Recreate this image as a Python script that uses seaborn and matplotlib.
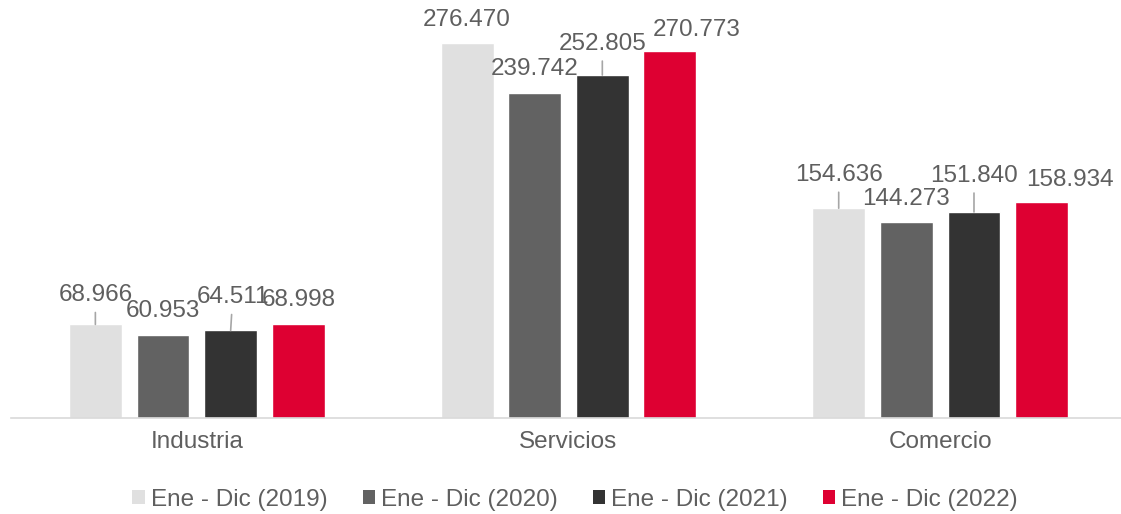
import matplotlib
matplotlib.use("Agg")
import matplotlib.pyplot as plt
import seaborn as sns
import pandas as pd
from matplotlib.patches import Patch

# ---- data ----
categories = ["Industria", "Servicios", "Comercio"]
series = ["Ene - Dic (2019)", "Ene - Dic (2020)", "Ene - Dic (2021)", "Ene - Dic (2022)"]
v2019 = [68966, 276470, 154636]
v2020 = [60953, 239742, 144273]
v2021 = [64511, 252805, 151840]
v2022 = [68998, 270773, 158934]
values = [v2019, v2020, v2021, v2022]

colors = ["#e0e0e0", "#626262", "#333333", "#de0032"]

# label placement (pixel offsets of label centre from bar top centre) and leader flags
label_offsets = [
    [(0, 31), (0, 25), (0, 35)],
    [(0, 26), (0, 26), (0, 25)],
    [(2, 35), (0, 33), (0, 38)],
    [(0, 26), (27, 23), (28, 24)],
]
leaders = [
    [True, False, True],
    [False, False, False],
    [True, True, True],
    [False, False, False],
]

rows = []
for s, vals in zip(series, values):
    for c, v in zip(categories, vals):
        rows.append({"cat": c, "serie": s, "val": v})
df = pd.DataFrame(rows)

sns.set_theme(style="white")
plt.rcParams["font.family"] = ["Liberation Sans", "DejaVu Sans"]

text_color = "#5f5f5f"
fs = 17.5

fig = plt.figure(figsize=(11.21, 5.14), dpi=100)
ax = fig.add_axes([11 / 1121, 96 / 514, 1115 / 1121, 407 / 514])

sns.barplot(data=df, x="cat", y="val", hue="serie", order=categories,
            hue_order=series, palette=colors, width=0.728, gap=0.217,
            saturation=1, ax=ax, legend=False, errorbar=None)

ax.set_xlim(-0.5, 2.5)
ax.set_ylim(0, 300000)
ax.set_xlabel("")
ax.set_ylabel("")
ax.set_yticks([])
for sp in ["left", "right", "top"]:
    ax.spines[sp].set_visible(False)
ax.spines["bottom"].set_color("#d9d9d9")
ax.spines["bottom"].set_linewidth(1.2)
ax.tick_params(axis="x", length=0, pad=9.5, labelsize=fs, labelcolor=text_color)

def fmt(v):
    return f"{v:,.0f}".replace(",", ".")

for hi, cont in enumerate(ax.containers):
    for ci, bar in enumerate(cont):
        x = bar.get_x() + bar.get_width() / 2
        y = bar.get_height()
        dx, dy = label_offsets[hi][ci]
        v = values[hi][ci]
        kw = {}
        if leaders[hi][ci]:
            kw["arrowprops"] = dict(arrowstyle="-", color="#a6a6a6", lw=1.2,
                                    shrinkA=2, shrinkB=0)
        ax.annotate(fmt(v), xy=(x, y), xytext=(dx, dy - 2), textcoords="offset pixels",
                    ha="center", va="center", fontsize=fs, color=text_color,
                    annotation_clip=False, **kw)

handles = [Patch(facecolor=c, edgecolor="none") for c in colors]
fig.legend(handles, series, loc="center", bbox_to_anchor=(0.513, 0.028), ncol=4,
           frameon=False, fontsize=fs, handlelength=0.5, handleheight=0.5,
           handletextpad=0.25, columnspacing=1.45, labelcolor=text_color)

fig.savefig("out.png", dpi=100)
